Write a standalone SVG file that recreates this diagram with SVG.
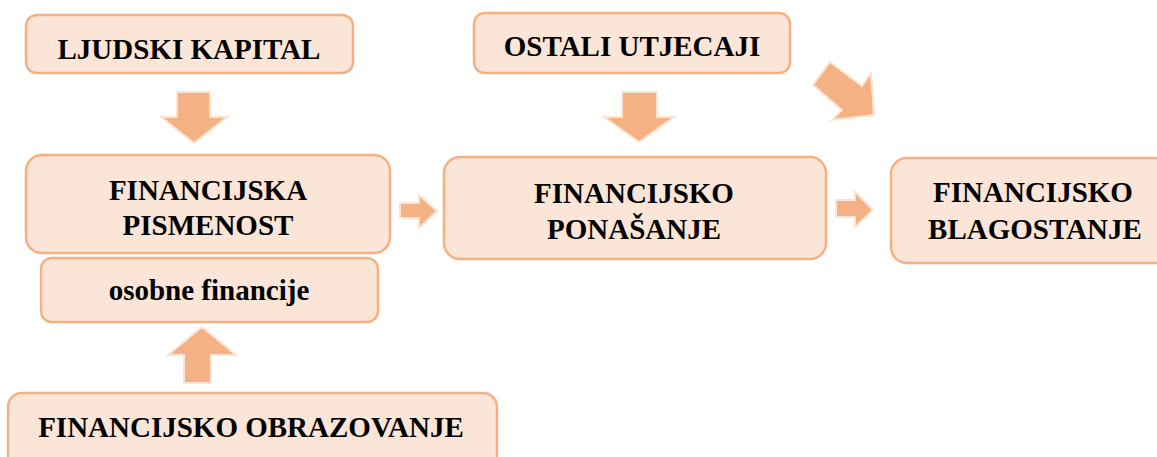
<svg xmlns="http://www.w3.org/2000/svg" width="1157" height="457" viewBox="0 0 1157 457">
<style>
.box{fill:#FBE5D6;stroke:#F4B183;stroke-width:2.5}
.arr{fill:#F4B183;stroke:#FCE4D4;stroke-width:2;stroke-linejoin:miter}
.t{font-family:"Liberation Serif","Times New Roman",serif;font-weight:bold;font-size:29px;fill:#000;text-anchor:middle}
</style>
<rect width="1157" height="457" fill="#fff"/>
<g id="connectors">
<polygon class="arr" points="177,92 210,92 210,117 227,117 194,143 161,117 177,117"/>
<polygon class="arr" points="622,92 657,92 657,117 674,117 639,142 604,117 622,117"/>
<polygon class="arr" points="184,383 211,383 211,355 236,355 202,327 168,355 184,355"/>
<polygon class="arr" points="400,203 419,203 419,195 437,211 419,228 419,218 400,218"/>
<polygon class="arr" points="836,200 855,200 855,192 873,210 855,227 855,217 836,217"/>
<polygon class="arr" points="830,62 862,86 871,73 874,115 832,120 842,110 813,85"/>
</g>
<g id="ljudski-kapital">
<rect class="box" x="26" y="15" width="327" height="58" rx="11"/>
<text class="t" x="189" y="59">LJUDSKI KAPITAL</text>
</g>
<g id="ostali-utjecaji">
<rect class="box" x="474" y="13" width="316" height="60" rx="11"/>
<text class="t" x="632" y="56">OSTALI UTJECAJI</text>
</g>
<g id="financijska-pismenost">
<rect class="box" x="26" y="155" width="364" height="98" rx="16"/>
<text class="t" x="208" y="200">FINANCIJSKA</text>
<text class="t" x="208" y="235">PISMENOST</text>
</g>
<g id="osobne-financije">
<rect class="box" x="41" y="258" width="337" height="64" rx="11"/>
<text class="t" x="209" y="300">osobne financije</text>
</g>
<g id="financijsko-obrazovanje">
<rect class="box" x="8" y="393" width="489" height="90" rx="14"/>
<text class="t" x="251" y="437">FINANCIJSKO OBRAZOVANJE</text>
</g>
<g id="financijsko-ponasanje">
<rect class="box" x="444" y="157" width="382" height="102" rx="16"/>
<text class="t" x="634" y="203">FINANCIJSKO</text>
<text class="t" x="634" y="239">PONAŠANJE</text>
</g>
<g id="financijsko-blagostanje">
<rect class="box" x="891" y="158" width="286" height="105" rx="16"/>
<text class="t" x="1033" y="202">FINANCIJSKO</text>
<text class="t" x="1035" y="239">BLAGOSTANJE</text>
</g>
</svg>
